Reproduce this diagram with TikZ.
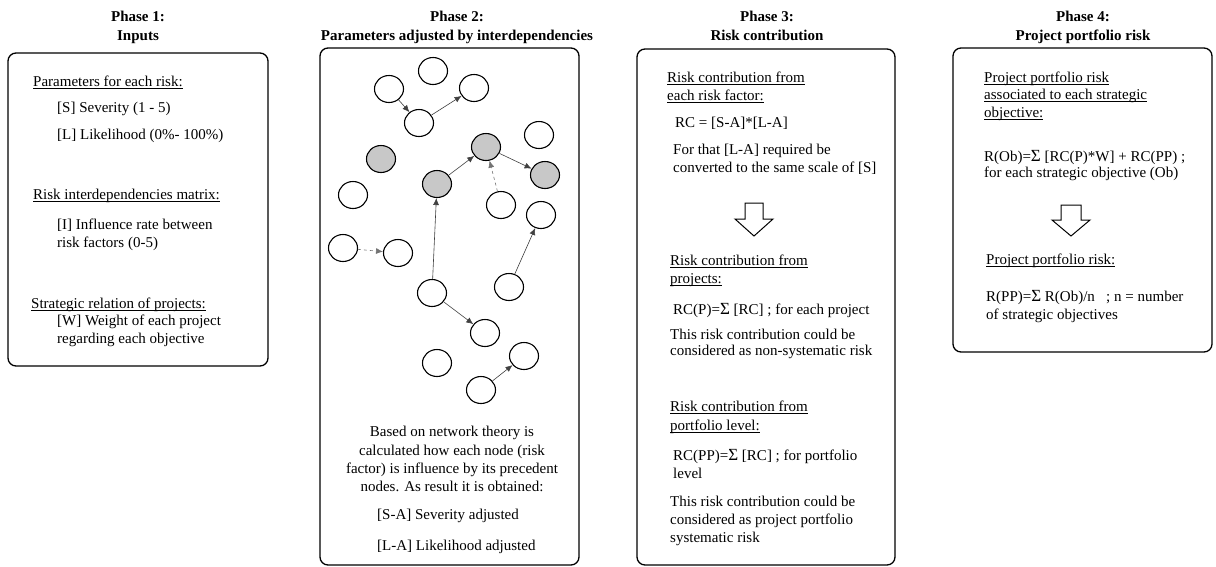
\documentclass[tikz,border=0pt]{standalone}
\usepackage{fontspec}
\setmainfont{Liberation Serif}
\usetikzlibrary{shapes.geometric,arrows.meta}
\newcommand\myul[1]{\setbox0\hbox{#1}\rlap{\rule[-2.2pt]{\wd0}{0.75pt}}\box0}
\newcommand\bigsig{{\fontsize{17}{18}\selectfont Σ}}
\tikzset{
  phasebox/.style={draw, line width=1.3pt, rounded corners=8pt},
  ttl/.style={anchor=base, inner sep=0pt, font=\fontsize{15}{18}\selectfont\bfseries},
  txt/.style={anchor=base west, inner sep=0pt, font=\fontsize{15}{18}\selectfont},
  ctxt/.style={anchor=base, inner sep=0pt, font=\fontsize{15}{18}\selectfont},
  gnode/.style={ellipse, draw, line width=1.1pt, minimum width=29pt, minimum height=27pt, inner sep=0pt, fill=white},
  gfill/.style={gnode, fill={rgb,255:red,200;green,200;blue,200}},
  edge/.style={draw=black!75, line width=0.6pt, -{Latex[length=7pt,width=6pt]}},
  dedge/.style={edge, draw=black!55, dashed},
  hollowarrow/.style={draw, line width=1pt, fill=white}
}
\begin{document}
\begin{tikzpicture}[x=1pt,y=-1pt]
\useasboundingbox (0,0) rectangle (1216,566);
% ---------- titles
\node[ttl] (t1a) at (138,21) {Phase 1:};
\node[ttl] (t1b) at (138,40) {Inputs};
\node[ttl] (t2a) at (457,21) {Phase 2:};
\node[ttl] (t2b) at (457,40) {Parameters adjusted by interdependencies};
\node[ttl] (t3a) at (767,21) {Phase 3:};
\node[ttl] (t3b) at (767,40) {Risk contribution};
\node[ttl] (t4a) at (1083,21) {Phase 4:};
\node[ttl] (t4b) at (1083,40) {Project portfolio risk};
% ---------- boxes
\draw[phasebox] (8,53) rectangle (268,366);
\draw[phasebox] (320,48) rectangle (579,565);
\draw[phasebox] (637,49) rectangle (895,565);
\draw[phasebox] (953,48) rectangle (1212,352);
% ---------- phase 1
\node[txt] (p1) at (33,86.5) {\myul{Parameters for each risk:}};
\node[txt] (p2) at (57,112.5) {[S] Severity (1 - 5)};
\node[txt] (p3) at (57,139.5) {[L] Likelihood (0\%- 100\%)};
\node[txt] (p4) at (33,199.5) {\myul{Risk interdependencies matrix:}};
\node[txt] (p5) at (57,229.5) {[I] Influence rate between};
\node[txt] (p6) at (57,247.5) {risk factors (0-5)};
\node[txt] (p7) at (31,308.5) {\myul{Strategic relation of projects:}};
\node[txt] (p8) at (57,325.5) {[W] Weight of each project};
\node[txt] (p9) at (57,343.5) {regarding each objective};
% ---------- phase 2 graph
\node[gnode] (n1) at (433,71) {};
\node[gnode] (n2) at (389,89) {};
\node[gnode] (n3) at (474,88) {};
\node[gnode] (n4) at (419,123) {};
\node[gnode] (n5) at (539,135) {};
\node[gfill] (n6) at (381,159) {};
\node[gfill] (n7) at (486,147) {};
\node[gfill] (n8) at (437,184) {};
\node[gfill] (n9) at (545,175) {};
\node[gnode] (n10) at (353,195) {};
\node[gnode] (n11) at (501,205) {};
\node[gnode] (n12) at (541,215) {};
\node[gnode] (n13) at (343,248) {};
\node[gnode] (n14) at (398,253) {};
\node[gnode] (n15) at (432,293) {};
\node[gnode] (n16) at (509,287) {};
\node[gnode] (n17) at (485,333) {};
\node[gnode] (n18) at (437,363) {};
\node[gnode] (n19) at (524,356) {};
\node[gnode] (n20) at (481,390) {};
\draw[edge] (n2) -- (n4);
\draw[edge] (n4) -- (n3);
\draw[edge] (n8) -- (n7);
\draw[edge] (n7) -- (n9);
\draw[dedge] (n11) -- (n7);
\draw[edge] (n15) -- (n8);
\draw[edge] (n16) -- (n12);
\draw[dedge] (n13) -- (n14);
\draw[edge] (n15) -- (n17);
\draw[edge] (n20) -- (n19);
% ---------- phase 2 text
\node[ctxt] (q1) at (452,436.5) {Based on network theory is};
\node[ctxt] (q2) at (452,455.5) {calculated how each node (risk};
\node[ctxt] (q3) at (452,473.5) {factor) is influence by its precedent};
\node[ctxt] (q4) at (452,491.5) {nodes. As result it is obtained:};
\node[txt] (q5) at (377,519.5) {[S-A] Severity adjusted};
\node[txt] (q6) at (377,550.5) {[L-A] Likelihood adjusted};
% ---------- phase 3
\node[txt] (r1) at (667,82.5) {\myul{Risk contribution from}};
\node[txt] (r2) at (667,100.5) {\myul{each risk factor:}};
\node[txt] (r3) at (675,127.5) {RC = [S-A]*[L-A]};
\node[txt] (r4) at (673,154.5) {For that [L-A] required be};
\node[txt] (r5) at (673,172.5) {converted to the same scale of [S]};
\draw[hollowarrow] (745,203) -- (763,203) -- (763,219) -- (773,219) -- (754,236) -- (735,219) -- (745,219) -- cycle;
\node[txt] (r6) at (670,265.5) {\myul{Risk contribution from}};
\node[txt] (r7) at (670,283.5) {\myul{projects:}};
\node[txt] (r8) at (673,314.5) {RC(P)=\bigsig{} [RC] ; for each project};
\node[txt] (r9) at (670,339.5) {This risk contribution could be};
\node[txt] (r10) at (670,355.5) {considered as non-systematic risk};
\node[txt] (r11) at (670,411.5) {\myul{Risk contribution from}};
\node[txt] (r12) at (670,430.5) {\myul{portfolio level:}};
\node[txt] (r13) at (673,460.5) {RC(PP)=\bigsig{} [RC] ; for portfolio};
\node[txt] (r14) at (673,478.5) {level};
\node[txt] (r15) at (670,506.5) {This risk contribution could be};
\node[txt] (r16) at (670,524.5) {considered as project portfolio};
\node[txt] (r17) at (670,542.5) {systematic risk};
% ---------- phase 4
\node[txt] (s1) at (984,82.5) {\myul{Project portfolio risk}};
\node[txt] (s2) at (984,99.5) {\myul{associated to each strategic}};
\node[txt] (s3) at (984,117.5) {\myul{objective:}};
\node[txt] (s4) at (984,161.5) {R(Ob)=\bigsig{} [RC(P)*W] + RC(PP) ;};
\node[txt] (s5) at (984,177.5) {for each strategic objective (Ob)};
\draw[hollowarrow] (1061,205) -- (1081,205) -- (1081,220) -- (1090,220) -- (1071,236) -- (1052,220) -- (1061,220) -- cycle;
\node[txt] (s6) at (986,264.5) {\myul{Project portfolio risk:}};
\node[txt] (s7) at (986,301.5) {R(PP)=\bigsig{} R(Ob)/n \ \ ; n = number};
\node[txt] (s8) at (986,319.5) {of strategic objectives};
\end{tikzpicture}
\end{document}
